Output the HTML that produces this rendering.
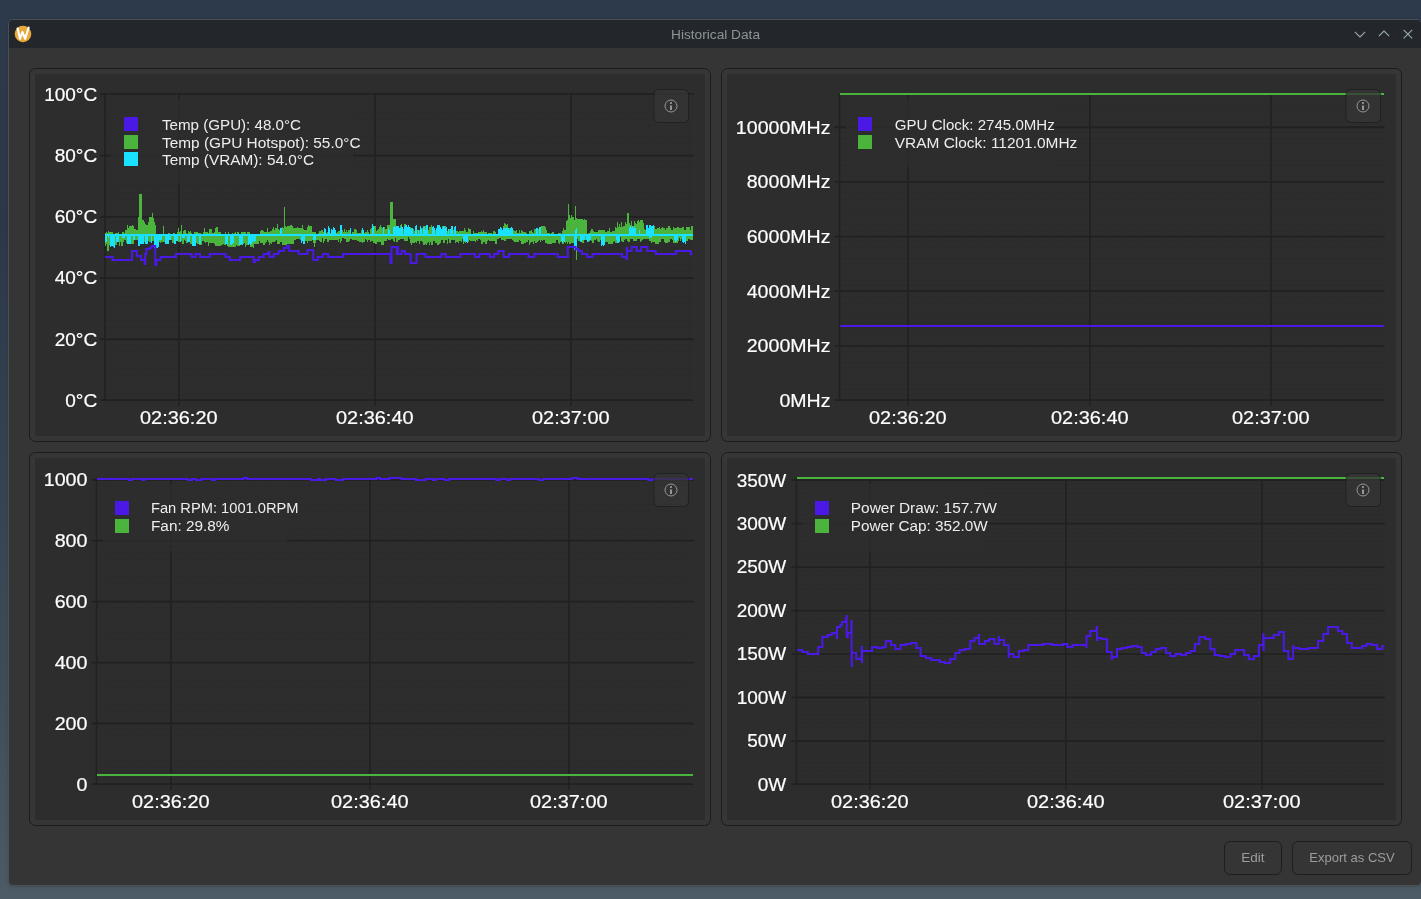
<!DOCTYPE html>
<html><head><meta charset="utf-8"><title>Historical Data</title>
<style>
html,body{margin:0;padding:0;}
body{width:1421px;height:899px;overflow:hidden;position:relative;font-family:"Liberation Sans", sans-serif;
background:linear-gradient(180deg,#2d3a4c 0%,#2c3848 25%,#344250 50%,#3e4c58 75%,#4c5b65 100%);}
.win{will-change:transform;position:absolute;left:8px;top:19px;width:1414px;height:867px;box-sizing:border-box;border:1px solid #4c4f54;border-radius:5px;background:#353535;overflow:hidden;box-shadow:0 1px 3px rgba(0,0,0,0.15);}
.tb{position:absolute;left:0;top:0;right:0;height:28px;background:#23262b;}
.title{position:absolute;left:0;width:1413px;top:7.3px;text-align:center;font-size:13.7px;color:#8d9696;}
.btn{position:absolute;top:821px;height:34px;border:1px solid #1e1e1e;border-radius:6px;background:#353535;color:#9d9d9d;font-size:13.5px;line-height:32px;text-align:center;box-sizing:border-box;}
svg{position:absolute;left:0;top:0;will-change:transform;}
svg text{font-family:"Liberation Sans", sans-serif;stroke:#ffffff;stroke-width:0.2px;}
</style></head><body>
<div class="win">
 <div class="tb">
  <div class="title">Historical Data</div>
 </div>
 <div class="btn" style="left:1215px;width:58px;">Edit</div>
 <div class="btn" style="left:1283px;width:120px;font-size:13px;">Export as CSV</div>
</div>
<svg width="1421" height="899" viewBox="0 0 1421 899">
<!-- title bar icons -->
<circle cx="23" cy="34" r="8.3" fill="#e9a93a"/>
<path d="M17.6 28.4 L20 38.8 L22.4 32 L25.2 38.8 L28.6 27.6" fill="none" stroke="#fff" stroke-width="2.1" stroke-linejoin="round" stroke-linecap="round"/>
<path d="M1354.8 31.8 L1360 37 L1365.2 31.8" fill="none" stroke="#9cadad" stroke-width="1.1"/>
<path d="M1378.8 36.2 L1384 31 L1389.2 36.2" fill="none" stroke="#9cadad" stroke-width="1.1"/>
<path d="M1403.6 29.8 L1412.2 38.4 M1412.2 29.8 L1403.6 38.4" fill="none" stroke="#9cadad" stroke-width="1.1"/>
<rect x="29.5" y="68.5" width="681" height="373" rx="6" ry="6" fill="#363636" stroke="#1c1c1c" stroke-width="1"/>
<rect x="35" y="74" width="670" height="362" fill="#2d2d2d"/>
<line x1="119.50" y1="94" x2="119.50" y2="400" stroke="#2b2b2b" stroke-width="1"/>
<line x1="139.50" y1="94" x2="139.50" y2="400" stroke="#2b2b2b" stroke-width="1"/>
<line x1="158.50" y1="94" x2="158.50" y2="400" stroke="#2b2b2b" stroke-width="1"/>
<line x1="198.50" y1="94" x2="198.50" y2="400" stroke="#2b2b2b" stroke-width="1"/>
<line x1="217.50" y1="94" x2="217.50" y2="400" stroke="#2b2b2b" stroke-width="1"/>
<line x1="237.50" y1="94" x2="237.50" y2="400" stroke="#2b2b2b" stroke-width="1"/>
<line x1="256.50" y1="94" x2="256.50" y2="400" stroke="#2b2b2b" stroke-width="1"/>
<line x1="276.50" y1="94" x2="276.50" y2="400" stroke="#2b2b2b" stroke-width="1"/>
<line x1="296.50" y1="94" x2="296.50" y2="400" stroke="#2b2b2b" stroke-width="1"/>
<line x1="315.50" y1="94" x2="315.50" y2="400" stroke="#2b2b2b" stroke-width="1"/>
<line x1="335.50" y1="94" x2="335.50" y2="400" stroke="#2b2b2b" stroke-width="1"/>
<line x1="354.50" y1="94" x2="354.50" y2="400" stroke="#2b2b2b" stroke-width="1"/>
<line x1="394.50" y1="94" x2="394.50" y2="400" stroke="#2b2b2b" stroke-width="1"/>
<line x1="413.50" y1="94" x2="413.50" y2="400" stroke="#2b2b2b" stroke-width="1"/>
<line x1="433.50" y1="94" x2="433.50" y2="400" stroke="#2b2b2b" stroke-width="1"/>
<line x1="452.50" y1="94" x2="452.50" y2="400" stroke="#2b2b2b" stroke-width="1"/>
<line x1="472.50" y1="94" x2="472.50" y2="400" stroke="#2b2b2b" stroke-width="1"/>
<line x1="492.50" y1="94" x2="492.50" y2="400" stroke="#2b2b2b" stroke-width="1"/>
<line x1="511.50" y1="94" x2="511.50" y2="400" stroke="#2b2b2b" stroke-width="1"/>
<line x1="531.50" y1="94" x2="531.50" y2="400" stroke="#2b2b2b" stroke-width="1"/>
<line x1="550.50" y1="94" x2="550.50" y2="400" stroke="#2b2b2b" stroke-width="1"/>
<line x1="590.50" y1="94" x2="590.50" y2="400" stroke="#2b2b2b" stroke-width="1"/>
<line x1="609.50" y1="94" x2="609.50" y2="400" stroke="#2b2b2b" stroke-width="1"/>
<line x1="629.50" y1="94" x2="629.50" y2="400" stroke="#2b2b2b" stroke-width="1"/>
<line x1="648.50" y1="94" x2="648.50" y2="400" stroke="#2b2b2b" stroke-width="1"/>
<line x1="668.50" y1="94" x2="668.50" y2="400" stroke="#2b2b2b" stroke-width="1"/>
<line x1="688.50" y1="94" x2="688.50" y2="400" stroke="#2b2b2b" stroke-width="1"/>
<line x1="105" y1="394.50" x2="693" y2="394.50" stroke="#2b2b2b" stroke-width="1"/>
<line x1="105" y1="388.50" x2="693" y2="388.50" stroke="#2b2b2b" stroke-width="1"/>
<line x1="105" y1="382.50" x2="693" y2="382.50" stroke="#2b2b2b" stroke-width="1"/>
<line x1="105" y1="375.50" x2="693" y2="375.50" stroke="#2b2b2b" stroke-width="1"/>
<line x1="105" y1="369.50" x2="693" y2="369.50" stroke="#2b2b2b" stroke-width="1"/>
<line x1="105" y1="363.50" x2="693" y2="363.50" stroke="#2b2b2b" stroke-width="1"/>
<line x1="105" y1="357.50" x2="693" y2="357.50" stroke="#2b2b2b" stroke-width="1"/>
<line x1="105" y1="351.50" x2="693" y2="351.50" stroke="#2b2b2b" stroke-width="1"/>
<line x1="105" y1="345.50" x2="693" y2="345.50" stroke="#2b2b2b" stroke-width="1"/>
<line x1="105" y1="333.50" x2="693" y2="333.50" stroke="#2b2b2b" stroke-width="1"/>
<line x1="105" y1="327.50" x2="693" y2="327.50" stroke="#2b2b2b" stroke-width="1"/>
<line x1="105" y1="320.50" x2="693" y2="320.50" stroke="#2b2b2b" stroke-width="1"/>
<line x1="105" y1="314.50" x2="693" y2="314.50" stroke="#2b2b2b" stroke-width="1"/>
<line x1="105" y1="308.50" x2="693" y2="308.50" stroke="#2b2b2b" stroke-width="1"/>
<line x1="105" y1="302.50" x2="693" y2="302.50" stroke="#2b2b2b" stroke-width="1"/>
<line x1="105" y1="296.50" x2="693" y2="296.50" stroke="#2b2b2b" stroke-width="1"/>
<line x1="105" y1="290.50" x2="693" y2="290.50" stroke="#2b2b2b" stroke-width="1"/>
<line x1="105" y1="284.50" x2="693" y2="284.50" stroke="#2b2b2b" stroke-width="1"/>
<line x1="105" y1="271.50" x2="693" y2="271.50" stroke="#2b2b2b" stroke-width="1"/>
<line x1="105" y1="265.50" x2="693" y2="265.50" stroke="#2b2b2b" stroke-width="1"/>
<line x1="105" y1="259.50" x2="693" y2="259.50" stroke="#2b2b2b" stroke-width="1"/>
<line x1="105" y1="253.50" x2="693" y2="253.50" stroke="#2b2b2b" stroke-width="1"/>
<line x1="105" y1="247.50" x2="693" y2="247.50" stroke="#2b2b2b" stroke-width="1"/>
<line x1="105" y1="241.50" x2="693" y2="241.50" stroke="#2b2b2b" stroke-width="1"/>
<line x1="105" y1="235.50" x2="693" y2="235.50" stroke="#2b2b2b" stroke-width="1"/>
<line x1="105" y1="229.50" x2="693" y2="229.50" stroke="#2b2b2b" stroke-width="1"/>
<line x1="105" y1="222.50" x2="693" y2="222.50" stroke="#2b2b2b" stroke-width="1"/>
<line x1="105" y1="210.50" x2="693" y2="210.50" stroke="#2b2b2b" stroke-width="1"/>
<line x1="105" y1="204.50" x2="693" y2="204.50" stroke="#2b2b2b" stroke-width="1"/>
<line x1="105" y1="198.50" x2="693" y2="198.50" stroke="#2b2b2b" stroke-width="1"/>
<line x1="105" y1="192.50" x2="693" y2="192.50" stroke="#2b2b2b" stroke-width="1"/>
<line x1="105" y1="186.50" x2="693" y2="186.50" stroke="#2b2b2b" stroke-width="1"/>
<line x1="105" y1="180.50" x2="693" y2="180.50" stroke="#2b2b2b" stroke-width="1"/>
<line x1="105" y1="174.50" x2="693" y2="174.50" stroke="#2b2b2b" stroke-width="1"/>
<line x1="105" y1="167.50" x2="693" y2="167.50" stroke="#2b2b2b" stroke-width="1"/>
<line x1="105" y1="161.50" x2="693" y2="161.50" stroke="#2b2b2b" stroke-width="1"/>
<line x1="105" y1="149.50" x2="693" y2="149.50" stroke="#2b2b2b" stroke-width="1"/>
<line x1="105" y1="143.50" x2="693" y2="143.50" stroke="#2b2b2b" stroke-width="1"/>
<line x1="105" y1="137.50" x2="693" y2="137.50" stroke="#2b2b2b" stroke-width="1"/>
<line x1="105" y1="131.50" x2="693" y2="131.50" stroke="#2b2b2b" stroke-width="1"/>
<line x1="105" y1="125.50" x2="693" y2="125.50" stroke="#2b2b2b" stroke-width="1"/>
<line x1="105" y1="118.50" x2="693" y2="118.50" stroke="#2b2b2b" stroke-width="1"/>
<line x1="105" y1="112.50" x2="693" y2="112.50" stroke="#2b2b2b" stroke-width="1"/>
<line x1="105" y1="106.50" x2="693" y2="106.50" stroke="#2b2b2b" stroke-width="1"/>
<line x1="105" y1="100.50" x2="693" y2="100.50" stroke="#2b2b2b" stroke-width="1"/>
<line x1="178.9" y1="94" x2="178.9" y2="405.5" stroke="#212121" stroke-width="1.6"/>
<line x1="374.9" y1="94" x2="374.9" y2="405.5" stroke="#212121" stroke-width="1.6"/>
<line x1="570.9" y1="94" x2="570.9" y2="405.5" stroke="#212121" stroke-width="1.6"/>
<line x1="100" y1="400.20" x2="693.7" y2="400.20" stroke="#212121" stroke-width="1.8"/>
<text x="97.2" y="406.80" text-anchor="end" font-size="19" fill="#ffffff">0°C</text>
<line x1="100" y1="339.25" x2="693.7" y2="339.25" stroke="#212121" stroke-width="1.8"/>
<text x="97.2" y="345.60" text-anchor="end" font-size="19" fill="#ffffff">20°C</text>
<line x1="100" y1="278.05" x2="693.7" y2="278.05" stroke="#212121" stroke-width="1.8"/>
<text x="97.2" y="284.40" text-anchor="end" font-size="19" fill="#ffffff">40°C</text>
<line x1="100" y1="216.85" x2="693.7" y2="216.85" stroke="#212121" stroke-width="1.8"/>
<text x="97.2" y="223.20" text-anchor="end" font-size="19" fill="#ffffff">60°C</text>
<line x1="100" y1="155.65" x2="693.7" y2="155.65" stroke="#212121" stroke-width="1.8"/>
<text x="97.2" y="162.00" text-anchor="end" font-size="19" fill="#ffffff">80°C</text>
<line x1="100" y1="93.90" x2="693.7" y2="93.90" stroke="#212121" stroke-width="1.8"/>
<text x="97.2" y="100.80" text-anchor="end" font-size="19" fill="#ffffff">100°C</text>
<line x1="105" y1="94" x2="105" y2="400" stroke="#212121" stroke-width="1.5"/>
<text x="178.8" y="423.8" text-anchor="middle" font-size="19" textLength="77.5" lengthAdjust="spacingAndGlyphs" fill="#ffffff">02:36:20</text>
<text x="374.8" y="423.8" text-anchor="middle" font-size="19" textLength="77.5" lengthAdjust="spacingAndGlyphs" fill="#ffffff">02:36:40</text>
<text x="570.8" y="423.8" text-anchor="middle" font-size="19" textLength="77.5" lengthAdjust="spacingAndGlyphs" fill="#ffffff">02:37:00</text>
<path d="M105,233H105V233H106H106V232H107H107V233H108H108V231H109H109V232H110H110V232H111H111V232H112H112V232H113H113V234H114H114V234H115H115V233H116H116V233H117H117V233H118H118V232H119H119V234H120H120V234H121H121V234H122H122V232H123H123V232H124H124V233H125H125V230H126H126V230H127H127V225H128H128V228H129H129V226H130H130V226H131H131V226H132H132V225H133H133V226H134H134V229H135H135V229H136H136V230H137H137V230H138H138V217H139H139V194H140H140V194H141H141V194H142H142V220H143H143V220H144H144V222H145H145V224H146H146V225H147H147V225H148H148V222H149H149V217H150H150V217H151H151V217H152H152V213H153H153V218H154H154V222H155H155V225H156H156V234H157H157V234H158H158V234H159H159V234H160H160V234H161H161V234H162H162V234H163H163V226H164H164V234H165H165V234H166H166V234H167H167V234H168H168V233H169H169V233H170H170V234H171H171V234H172H172V234H173H173V233H174H174V233H175H175V234H176H176V234H177H177V232H178H178V228H179H179V232H180H180V231H181H181V225H182H182V234H183H183V231H184H184V230H185H185V230H186H186V233H187H187V234H188H188V231H189H189V232H190H190V231H191H191V233H192H192V234H193H193V234H194H194V232H195H195V232H196H196V232H197H197V232H198H198V233H199H199V233H200H200V233H201H201V234H202H202V234H203H203V232H204H204V228H205H205V232H206H206V232H207H207V232H208H208V233H209H209V229H210H210V229H211H211V229H212H212V233H213H213V233H214H214V232H215H215V228H216H216V227H217H217V227H218H218V232H219H219V232H220H220V232H221H221V234H222H222V234H223H223V234H224H224V234H225H225V232H226H226V234H227H227V234H228H228V232H229H229V234H230H230V234H231H231V234H232H232V233H233H233V234H234H234V233H235H235V232H236H236V234H237H237V232H238H238V232H239H239V234H240H240V234H241H241V232H242H242V232H243H243V232H244H244V232H245H245V232H246H246V234H247H247V232H248H248V232H249H249V232H250H250V234H251H251V234H252H252V234H253H253V234H254H254V234H255H255V234H256H256V234H257H257V234H258H258V234H259H259V234H260H260V231H261H261V230H262H262V230H263H263V231H264H264V232H265H265V232H266H266V232H267H267V228H268H268V232H269H269V232H270H270V231H271H271V231H272H272V229H273H273V227H274H274V230H275H275V228H276H276V228H277H277V224H278H278V229H279H279V230H280H280V229H281H281V229H282H282V227H283H283V228H284H284V207H285H285V226H286H286V227H287H287V226H288H288V226H289H289V226H290H290V225H291H291V225H292H292V226H293H293V228H294H294V228H295H295V228H296H296V228H297H297V227H298H298V228H299H299V228H300H300V228H301H301V228H302H302V225H303H303V229H304H304V230H305H305V230H306H306V230H307H307V227H308H308V225H309H309V226H310H310V226H311H311V226H312H312V232H313H313V232H314H314V232H315H315V232H316H316V234H317H317V234H318H318V233H319H319V231H320H320V231H321H321V230H322H322V230H323H323V232H324H324V233H325H325V233H326H326V233H327H327V232H328H328V230H329H329V233H330H330V233H331H331V232H332H332V232H333H333V233H334H334V233H335H335V233H336H336V233H337H337V232H338H338V231H339H339V231H340H340V231H341H341V230H342H342V230H343H343V232H344H344V229H345H345V232H346H346V230H347H347V232H348H348V230H349H349V230H350H350V230H351H351V234H352H352V232H353H353V232H354H354V229H355H355V229H356H356V230H357H357V233H358H358V233H359H359V233H360H360V233H361H361V230H362H362V231H363H363V233H364H364V233H365H365V232H366H366V232H367H367V230H368H368V232H369H369V234H370H370V229H371H371V228H372H372V228H373H373V228H374H374V226H375H375V226H376H376V231H377H377V230H378H378V229H379H379V227H380H380V225H381H381V227H382H382V228H383H383V228H384H384V227H385H385V229H386H386V229H387H387V225H388H388V225H389H389V225H390H390V202H391H391V202H392H392V202H393H393V219H394H394V219H395H395V219H396H396V231H397H397V230H398H398V232H399H399V229H400H400V225H401H401V224H402H402V229H403H403V229H404H404V224H405H405V224H406H406V228H407H407V227H408H408V225H409H409V227H410H410V227H411H411V229H412H412V228H413H413V229H414H414V231H415H415V231H416H416V230H417H417V230H418H418V230H419H419V230H420H420V228H421H421V228H422H422V228H423H423V226H424H424V226H425H425V226H426H426V229H427H427V230H428H428V230H429H429V227H430H430V227H431H431V225H432H432V228H433H433V228H434H434V230H435H435V230H436H436V230H437H437V229H438H438V225H439H439V230H440H440V230H441H441V230H442H442V226H443H443V226H444H444V226H445H445V226H446H446V230H447H447V231H448H448V230H449H449V229H450H450V229H451H451V229H452H452V229H453H453V230H454H454V232H455H455V231H456H456V231H457H457V231H458H458V232H459H459V231H460H460V231H461H461V231H462H462V231H463H463V231H464H464V228H465H465V230H466H466V232H467H467V232H468H468V228H469H469V229H470H470V229H471H471V234H472H472V234H473H473V231H474H474V233H475H475V233H476H476V233H477H477V233H478H478V232H479H479V232H480H480V232H481H481V231H482H482V232H483H483V230H484H484V232H485H485V232H486H486V232H487H487V234H488H488V233H489H489V233H490H490V233H491H491V233H492H492V234H493H493V231H494H494V231H495H495V232H496H496V234H497H497V234H498H498V231H499H499V234H500H500V231H501H501V230H502H502V231H503H503V226H504H504V223H505H505V224H506H506V225H507H507V224H508H508V229H509H509V228H510H510V228H511H511V234H512H512V233H513H513V230H514H514V231H515H515V231H516H516V230H517H517V233H518H518V233H519H519V230H520H520V233H521H521V230H522H522V231H523H523V232H524H524V232H525H525V232H526H526V233H527H527V234H528H528V234H529H529V231H530H530V231H531H531V230H532H532V232H533H533V233H534H534V229H535H535V229H536H536V229H537H537V229H538H538V229H539H539V229H540H540V228H541H541V226H542H542V226H543H543V226H544H544V226H545H545V227H546H546V230H547H547V233H548H548V233H549H549V233H550H550V234H551H551V233H552H552V232H553H553V232H554H554V234H555H555V234H556H556V234H557H557V234H558H558V233H559H559V233H560H560V233H561H561V234H562H562V231H563H563V228H564H564V230H565H565V230H566H566V221H567H567V220H568H568V204H569H569V215H570H570V218H571H571V215H572H572V217H573H573V217H574H574V220H575H575V206H576H576V218H577H577V219H578H578V219H579H579V219H580H580V219H581H581V219H582H582V219H583H583V220H584H584V219H585H585V220H586H586V220H587H587V234H588H588V233H589H589V233H590H590V231H591H591V229H592H592V229H593H593V231H594H594V232H595H595V232H596H596V232H597H597V232H598H598V230H599H599V230H600H600V230H601H601V230H602H602V230H603H603V230H604H604V230H605H605V232H606H606V232H607H607V231H608H608V231H609H609V228H610H610V232H611H611V232H612H612V231H613H613V231H614H614V231H615H615V227H616H616V228H617H617V222H618H618V227H619H619V224H620H620V227H621H621V222H622H622V227H623H623V226H624H624V226H625H625V222H626H626V224H627H627V213H628H628V213H629H629V223H630H630V225H631H631V221H632H632V226H633H633V226H634H634V221H635H635V223H636H636V224H637H637V221H638H638V220H639H639V222H640H640V220H641H641V220H642H642V220H643H643V223H644H644V229H645H645V230H646H646V229H647H647V227H648H648V231H649H649V231H650H650V229H651H651V227H652H652V231H653H653V227H654H654V226H655H655V229H656H656V229H657H657V228H658H658V228H659H659V227H660H660V229H661H661V228H662H662V227H663H663V228H664H664V228H665H665V230H666H666V228H667H667V228H668H668V226H669H669V226H670H670V228H671H671V230H672H672V230H673H673V227H674H674V228H675H675V228H676H676V228H677H677V227H678H678V227H679H679V228H680H680V228H681H681V228H682H682V227H683H683V227H684H684V230H685H685V230H686H686V227H687H687V227H688H688V227H689H689V227H690H690V230H691H691V226H692H692V226H693V240H692V240H691V240H690V239H689V239H688V241H687V241H686V241H685V241H684V238H683V239H682V239H681V241H680V238H679V241H678V243H677V243H676V243H675V243H674V243H673V240H672V239H671V239H670V242H669V242H668V243H667V243H666V243H665V242H664V239H663V239H662V239H661V242H660V242H659V244H658V244H657V244H656V244H655V242H654V242H653V242H652V243H651V241H650V241H649V239H648V239H647V239H646V239H645V239H644V239H643V240H642V241H641V242H640V239H639V239H638V239H637V241H636V241H635V241H634V241H633V239H632V239H631V239H630V242H629V242H628V241H627V239H626V239H625V240H624V242H623V242H622V241H621V237H620V237H619V243H618V243H617V243H616V243H615V241H614V242H613V244H612V244H611V244H610V244H609V244H608V242H607V242H606V242H605V242H604V242H603V241H602V240H601V240H600V242H599V242H598V241H597V239H596V240H595V240H594V243H593V243H592V241H591V238H590V239H589V242H588V239H587V240H586V240H585V240H584V243H583V243H582V242H581V242H580V241H579V241H578V239H577V260H576V240H575V243H574V243H573V243H572V243H571V244H570V244H569V242H568V244H567V242H566V243H565V241H564V244H563V244H562V242H561V242H560V244H559V243H558V240H557V240H556V243H555V243H554V243H553V243H552V244H551V244H550V244H549V244H548V244H547V243H546V243H545V240H544V240H543V241H542V240H541V242H540V240H539V241H538V242H537V243H536V243H535V241H534V244H533V242H532V242H531V243H530V245H529V240H528V242H527V242H526V243H525V243H524V244H523V244H522V244H521V241H520V240H519V242H518V242H517V242H516V242H515V242H514V241H513V240H512V239H511V239H510V239H509V239H508V239H507V239H506V241H505V241H504V240H503V240H502V240H501V238H500V238H499V239H498V239H497V244H496V244H495V241H494V241H493V241H492V241H491V241H490V241H489V240H488V241H487V244H486V244H485V242H484V242H483V244H482V244H481V240H480V239H479V239H478V241H477V240H476V242H475V241H474V241H473V241H472V241H471V241H470V240H469V242H468V240H467V242H466V243H465V242H464V244H463V239H462V242H461V241H460V241H459V243H458V242H457V242H456V243H455V240H454V240H453V240H452V240H451V243H450V243H449V239H448V244H447V240H446V240H445V243H444V243H443V240H442V240H441V243H440V244H439V245H438V245H437V243H436V243H435V241H434V241H433V245H432V245H431V242H430V245H429V242H428V243H427V245H426V244H425V245H424V245H423V242H422V241H421V241H420V244H419V241H418V241H417V243H416V242H415V243H414V243H413V243H412V245H411V243H410V239H409V237H408V241H407V241H406V241H405V241H404V239H403V239H402V239H401V239H400V240H399V240H398V242H397V242H396V238H395V242H394V241H393V239H392V239H391V240H390V240H389V240H388V239H387V241H386V241H385V241H384V245H383V245H382V245H381V242H380V242H379V242H378V242H377V244H376V244H375V243H374V243H373V241H372V241H371V242H370V240H369V240H368V242H367V240H366V239H365V242H364V242H363V243H362V242H361V242H360V242H359V241H358V241H357V240H356V240H355V240H354V240H353V240H352V239H351V239H350V241H349V242H348V242H347V242H346V239H345V239H344V238H343V238H342V241H341V243H340V239H339V242H338V240H337V240H336V240H335V240H334V240H333V240H332V240H331V240H330V240H329V242H328V242H327V239H326V239H325V241H324V243H323V238H322V242H321V242H320V241H319V240H318V240H317V240H316V243H315V247H314V243H313V240H312V241H311V241H310V241H309V241H308V243H307V241H306V241H305V242H304V241H303V240H302V240H301V240H300V239H299V239H298V239H297V239H296V240H295V240H294V244H293V244H292V244H291V244H290V244H289V244H288V244H287V245H286V245H285V245H284V245H283V245H282V242H281V242H280V244H279V244H278V244H277V240H276V241H275V242H274V242H273V242H272V244H271V243H270V245H269V242H268V240H267V242H266V243H265V245H264V245H263V243H262V243H261V243H260V241H259V244H258V244H257V244H256V244H255V244H254V248H253V247H252V247H251V247H250V244H249V245H248V245H247V245H246V247H245V243H244V244H243V244H242V245H241V243H240V246H239V246H238V246H237V245H236V247H235V247H234V247H233V247H232V247H231V247H230V247H229V247H228V246H227V244H226V245H225V245H224V244H223V245H222V245H221V246H220V246H219V246H218V246H217V246H216V246H215V244H214V243H213V243H212V243H211V243H210V243H209V246H208V242H207V242H206V243H205V242H204V241H203V241H202V245H201V245H200V245H199V244H198V244H197V243H196V243H195V244H194V244H193V244H192V244H191V244H190V241H189V241H188V243H187V243H186V241H185V240H184V244H183V244H182V241H181V242H180V242H179V242H178V241H177V240H176V240H175V243H174V243H173V243H172V240H171V240H170V239H169V240H168V240H167V243H166V241H165V242H164V242H163V242H162V242H161V243H160V242H159V242H158V242H157V242H156V243H155V244H154V241H153V241H152V241H151V242H150V242H149V241H148V240H147V241H146V241H145V242H144V244H143V240H142V241H141V241H140V241H139V241H138V240H137V240H136V240H135V240H134V244H133V244H132V244H131V244H130V242H129V242H128V243H127V243H126V240H125V240H124V242H123V246H122V246H121V242H120V246H119V242H118V242H117V245H116V245H115V245H114V241H113V241H112V244H111V245H110V245H109V251H108V251H107V244H106V246H105Z" fill="rgb(75,180,60)"/>
<path d="M105,234H105V234H106H106V234H107H107V234H108H108V234H109H109V234H110H110V234H111H111V234H112H112V234H113H113V234H114H114V234H115H115V234H116H116V234H117H117V234H118H118V234H119H119V234H120H120V234H121H121V234H122H122V234H123H123V234H124H124V234H125H125V234H126H126V234H127H127V234H128H128V234H129H129V234H130H130V234H131H131V234H132H132V234H133H133V234H134H134V234H135H135V234H136H136V234H137H137V234H138H138V234H139H139V234H140H140V234H141H141V234H142H142V234H143H143V234H144H144V234H145H145V234H146H146V234H147H147V234H148H148V234H149H149V234H150H150V234H151H151V234H152H152V234H153H153V234H154H154V234H155H155V234H156H156V234H157H157V234H158H158V234H159H159V234H160H160V234H161H161V234H162H162V234H163H163V234H164H164V234H165H165V234H166H166V234H167H167V234H168H168V234H169H169V234H170H170V234H171H171V234H172H172V234H173H173V234H174H174V234H175H175V234H176H176V234H177H177V234H178H178V234H179H179V234H180H180V234H181H181V234H182H182V234H183H183V234H184H184V234H185H185V234H186H186V234H187H187V234H188H188V234H189H189V234H190H190V234H191H191V234H192H192V234H193H193V234H194H194V234H195H195V234H196H196V234H197H197V234H198H198V234H199H199V234H200H200V234H201H201V234H202H202V234H203H203V234H204H204V234H205H205V234H206H206V234H207H207V234H208H208V234H209H209V234H210H210V234H211H211V234H212H212V234H213H213V234H214H214V234H215H215V234H216H216V234H217H217V234H218H218V234H219H219V234H220H220V234H221H221V234H222H222V234H223H223V234H224H224V234H225H225V234H226H226V234H227H227V234H228H228V234H229H229V234H230H230V234H231H231V234H232H232V234H233H233V234H234H234V234H235H235V234H236H236V234H237H237V234H238H238V234H239H239V234H240H240V234H241H241V234H242H242V234H243H243V234H244H244V234H245H245V234H246H246V234H247H247V234H248H248V234H249H249V234H250H250V234H251H251V234H252H252V234H253H253V234H254H254V234H255H255V234H256H256V234H257H257V234H258H258V234H259H259V234H260H260V234H261H261V234H262H262V234H263H263V234H264H264V234H265H265V234H266H266V234H267H267V234H268H268V234H269H269V234H270H270V234H271H271V234H272H272V234H273H273V234H274H274V234H275H275V234H276H276V234H277H277V234H278H278V234H279H279V234H280H280V228H281H281V228H282H282V234H283H283V234H284H284V234H285H285V234H286H286V234H287H287V234H288H288V234H289H289V234H290H290V234H291H291V234H292H292V234H293H293V234H294H294V234H295H295V234H296H296V234H297H297V234H298H298V234H299H299V234H300H300V234H301H301V234H302H302V234H303H303V234H304H304V234H305H305V234H306H306V234H307H307V234H308H308V234H309H309V234H310H310V234H311H311V234H312H312V234H313H313V234H314H314V234H315H315V234H316H316V234H317H317V234H318H318V234H319H319V234H320H320V234H321H321V234H322H322V234H323H323V234H324H324V228H325H325V229H326H326V234H327H327V234H328H328V226H329H329V228H330H330V234H331H331V229H332H332V230H333H333V227H334H334V228H335H335V230H336H336V234H337H337V234H338H338V234H339H339V234H340H340V225H341H341V225H342H342V234H343H343V234H344H344V234H345H345V234H346H346V234H347H347V234H348H348V234H349H349V234H350H350V228H351H351V234H352H352V234H353H353V234H354H354V234H355H355V234H356H356V234H357H357V234H358H358V234H359H359V234H360H360V234H361H361V234H362H362V228H363H363V230H364H364V234H365H365V234H366H366V234H367H367V234H368H368V234H369H369V234H370H370V234H371H371V234H372H372V224H373H373V226H374H374V234H375H375V234H376H376V234H377H377V234H378H378V234H379H379V234H380H380V234H381H381V234H382H382V234H383H383V227H384H384V234H385H385V234H386H386V234H387H387V234H388H388V228H389H389V230H390H390V234H391H391V234H392H392V234H393H393V227H394H394V226H395H395V227H396H396V226H397H397V226H398H398V226H399H399V228H400H400V228H401H401V226H402H402V227H403H403V234H404H404V227H405H405V225H406H406V225H407H407V227H408H408V225H409H409V227H410H410V229H411H411V228H412H412V228H413H413V234H414H414V234H415H415V226H416H416V225H417H417V234H418H418V230H419H419V234H420H420V226H421H421V229H422H422V234H423H423V227H424H424V227H425H425V230H426H426V225H427H427V225H428H428V234H429H429V234H430H430V234H431H431V234H432H432V227H433H433V226H434H434V228H435H435V234H436H436V228H437H437V225H438H438V225H439H439V225H440H440V227H441H441V229H442H442V228H443H443V226H444H444V226H445H445V228H446H446V227H447H447V234H448H448V229H449H449V234H450H450V229H451H451V226H452H452V226H453H453V234H454H454V227H455H455V226H456H456V234H457H457V234H458H458V234H459H459V234H460H460V234H461H461V234H462H462V234H463H463V234H464H464V234H465H465V234H466H466V234H467H467V234H468H468V234H469H469V234H470H470V234H471H471V234H472H472V234H473H473V234H474H474V234H475H475V234H476H476V234H477H477V234H478H478V234H479H479V234H480H480V234H481H481V234H482H482V234H483H483V234H484H484V234H485H485V234H486H486V234H487H487V234H488H488V234H489H489V234H490H490V234H491H491V234H492H492V234H493H493V234H494H494V234H495H495V234H496H496V234H497H497V234H498H498V229H499H499V229H500H500V227H501H501V228H502H502V230H503H503V228H504H504V228H505H505V228H506H506V228H507H507V228H508H508V228H509H509V230H510H510V228H511H511V227H512H512V228H513H513V234H514H514V234H515H515V234H516H516V234H517H517V234H518H518V234H519H519V234H520H520V234H521H521V234H522H522V234H523H523V234H524H524V234H525H525V234H526H526V234H527H527V234H528H528V234H529H529V234H530H530V234H531H531V234H532H532V234H533H533V234H534H534V234H535H535V234H536H536V228H537H537V228H538H538V234H539H539V227H540H540V227H541H541V234H542H542V234H543H543V234H544H544V234H545H545V234H546H546V234H547H547V234H548H548V234H549H549V234H550H550V234H551H551V234H552H552V234H553H553V234H554H554V234H555H555V234H556H556V234H557H557V234H558H558V234H559H559V234H560H560V234H561H561V234H562H562V234H563H563V234H564H564V234H565H565V234H566H566V234H567H567V234H568H568V234H569H569V234H570H570V234H571H571V234H572H572V234H573H573V234H574H574V234H575H575V230H576H576V228H577H577V234H578H578V234H579H579V234H580H580V234H581H581V234H582H582V234H583H583V234H584H584V234H585H585V234H586H586V234H587H587V234H588H588V234H589H589V234H590H590V234H591H591V234H592H592V234H593H593V234H594H594V234H595H595V234H596H596V234H597H597V234H598H598V234H599H599V234H600H600V234H601H601V234H602H602V234H603H603V234H604H604V234H605H605V234H606H606V234H607H607V234H608H608V234H609H609V234H610H610V234H611H611V234H612H612V234H613H613V234H614H614V234H615H615V234H616H616V234H617H617V234H618H618V234H619H619V234H620H620V234H621H621V234H622H622V234H623H623V234H624H624V234H625H625V234H626H626V234H627H627V234H628H628V234H629H629V227H630H630V226H631H631V228H632H632V226H633H633V228H634H634V227H635H635V228H636H636V234H637H637V234H638H638V234H639H639V230H640H640V234H641H641V234H642H642V234H643H643V234H644H644V234H645H645V234H646H646V225H647H647V225H648H648V228H649H649V225H650H650V225H651H651V226H652H652V226H653H653V225H654H654V234H655H655V234H656H656V234H657H657V234H658H658V234H659H659V234H660H660V234H661H661V234H662H662V234H663H663V234H664H664V234H665H665V234H666H666V234H667H667V234H668H668V234H669H669V234H670H670V234H671H671V234H672H672V234H673H673V234H674H674V234H675H675V234H676H676V234H677H677V234H678H678V234H679H679V234H680H680V234H681H681V234H682H682V234H683H683V234H684H684V234H685H685V234H686H686V234H687H687V234H688H688V234H689H689V234H690H690V234H691H691V234H692H692V234H693V236H692V236H691V236H690V236H689V236H688V236H687V236H686V244H685V242H684V243H683V242H682V236H681V236H680V236H679V236H678V240H677V241H676V242H675V240H674V236H673V236H672V236H671V236H670V236H669V236H668V236H667V236H666V236H665V236H664V236H663V236H662V236H661V236H660V236H659V236H658V236H657V236H656V236H655V236H654V236H653V236H652V238H651V237H650V238H649V236H648V236H647V236H646V236H645V236H644V236H643V236H642V236H641V236H640V236H639V236H638V236H637V236H636V236H635V236H634V236H633V236H632V236H631V236H630V236H629V236H628V236H627V236H626V236H625V236H624V236H623V236H622V236H621V236H620V242H619V243H618V243H617V240H616V236H615V236H614V236H613V236H612V236H611V236H610V236H609V236H608V236H607V236H606V236H605V245H604V246H603V245H602V246H601V236H600V236H599V236H598V236H597V236H596V236H595V236H594V236H593V236H592V236H591V240H590V241H589V241H588V242H587V240H586V236H585V240H584V240H583V240H582V242H581V241H580V236H579V236H578V236H577V248H576V250H575V250H574V236H573V236H572V236H571V236H570V236H569V236H568V236H567V236H566V236H565V242H564V241H563V243H562V241H561V236H560V236H559V236H558V236H557V236H556V236H555V236H554V236H553V236H552V236H551V236H550V236H549V236H548V236H547V236H546V236H545V236H544V236H543V236H542V236H541V236H540V236H539V236H538V236H537V236H536V236H535V236H534V236H533V236H532V236H531V236H530V236H529V236H528V236H527V236H526V236H525V236H524V236H523V236H522V236H521V236H520V236H519V236H518V236H517V236H516V236H515V236H514V236H513V236H512V236H511V236H510V236H509V236H508V236H507V236H506V236H505V236H504V236H503V236H502V236H501V236H500V236H499V236H498V236H497V236H496V236H495V236H494V236H493V236H492V236H491V236H490V236H489V236H488V236H487V236H486V236H485V236H484V236H483V236H482V236H481V236H480V236H479V236H478V236H477V236H476V236H475V236H474V236H473V236H472V236H471V236H470V236H469V236H468V243H467V242H466V241H465V241H464V241H463V236H462V236H461V236H460V236H459V236H458V236H457V236H456V236H455V236H454V236H453V236H452V236H451V236H450V236H449V236H448V236H447V236H446V236H445V236H444V236H443V236H442V236H441V236H440V236H439V236H438V236H437V236H436V236H435V236H434V236H433V236H432V236H431V236H430V236H429V236H428V236H427V236H426V236H425V236H424V236H423V236H422V236H421V236H420V236H419V236H418V236H417V236H416V236H415V236H414V236H413V236H412V236H411V236H410V236H409V236H408V236H407V236H406V236H405V236H404V236H403V236H402V236H401V236H400V236H399V236H398V236H397V236H396V236H395V236H394V236H393V236H392V236H391V236H390V236H389V236H388V236H387V236H386V236H385V236H384V236H383V236H382V236H381V236H380V236H379V236H378V236H377V236H376V236H375V236H374V236H373V236H372V236H371V236H370V236H369V236H368V236H367V236H366V236H365V236H364V236H363V236H362V236H361V236H360V236H359V236H358V236H357V236H356V236H355V236H354V236H353V236H352V236H351V236H350V236H349V236H348V236H347V236H346V236H345V236H344V236H343V236H342V236H341V236H340V236H339V236H338V236H337V236H336V236H335V236H334V236H333V236H332V236H331V236H330V236H329V236H328V236H327V236H326V236H325V236H324V236H323V236H322V236H321V236H320V236H319V236H318V236H317V236H316V240H315V240H314V240H313V236H312V236H311V236H310V236H309V236H308V236H307V236H306V236H305V244H304V244H303V241H302V243H301V236H300V236H299V236H298V236H297V236H296V236H295V236H294V236H293V236H292V236H291V236H290V236H289V236H288V236H287V236H286V236H285V236H284V236H283V236H282V236H281V236H280V236H279V236H278V236H277V236H276V236H275V236H274V236H273V236H272V236H271V236H270V236H269V236H268V236H267V236H266V236H265V236H264V236H263V236H262V236H261V236H260V236H259V236H258V236H257V236H256V241H255V242H254V241H253V243H252V244H251V245H250V244H249V245H248V236H247V236H246V236H245V236H244V236H243V245H242V244H241V245H240V245H239V236H238V236H237V236H236V236H235V236H234V243H233V244H232V245H231V245H230V236H229V236H228V245H227V244H226V244H225V236H224V236H223V236H222V236H221V236H220V236H219V236H218V236H217V236H216V236H215V236H214V236H213V236H212V236H211V236H210V236H209V236H208V236H207V236H206V236H205V236H204V236H203V236H202V236H201V244H200V244H199V236H198V236H197V236H196V246H195V246H194V246H193V246H192V236H191V236H190V242H189V242H188V242H187V236H186V236H185V238H184V238H183V238H182V236H181V242H180V236H179V236H178V241H177V241H176V244H175V244H174V236H173V236H172V236H171V240H170V240H169V244H168V244H167V244H166V244H165V236H164V236H163V236H162V240H161V240H160V240H159V247H158V248H157V248H156V248H155V248H154V236H153V236H152V243H151V236H150V236H149V236H148V244H147V244H146V244H145V236H144V244H143V244H142V244H141V244H140V246H139V246H138V236H137V236H136V236H135V240H134V240H133V236H132V236H131V244H130V244H129V244H128V244H127V236H126V236H125V238H124V238H123V238H122V236H121V236H120V236H119V242H118V242H117V242H116V236H115V248H114V247H113V246H112V246H111V247H110V236H109V238H108V236H107V242H106V242H105Z" fill="rgb(25,225,255)"/>
<polyline points="105.1,257.0 112.5,257.0 112.5,260.0 132.0,260.0 132.0,251.0 136.8,251.0 136.8,256.0 141.0,256.0 141.0,260.0 144.7,260.0 144.7,264.0 145.2,264.0 145.2,254.0 146.3,254.0 146.3,249.0 149.4,249.0 149.4,248.0 151.6,248.0 151.6,246.0 155.3,246.0 155.3,265.0 156.3,265.0 156.3,260.0 160.5,260.0 160.5,257.0 175.8,257.0 175.8,254.0 191.7,254.0 191.7,257.0 195.4,257.0 195.4,254.0 200.1,254.0 200.1,257.0 209.6,257.0 209.6,254.0 225.5,254.0 225.5,257.0 229.7,257.0 229.7,260.0 240.2,260.0 240.2,257.0 250.0,257.0 250.0,257.0 253.7,257.0 253.7,262.0 255.3,262.0 255.3,260.0 259.0,260.0 259.0,257.0 263.7,257.0 263.7,254.0 268.5,254.0 268.5,252.0 269.5,252.0 269.5,257.0 273.8,257.0 273.8,254.0 278.5,254.0 278.5,251.0 283.8,251.0 283.8,248.0 286.9,248.0 286.9,246.0 289.1,246.0 289.1,251.0 298.6,251.0 298.6,254.0 307.5,254.0 307.5,250.0 313.3,250.0 313.3,260.0 317.6,260.0 317.6,257.0 322.8,257.0 322.8,254.0 328.1,254.0 328.1,257.0 342.9,257.0 342.9,254.0 390.4,254.0 390.4,263.0 391.5,263.0 391.5,247.0 396.7,247.0 396.7,254.0 397.0,254.0 397.0,254.0 397.6,254.0 397.6,247.0 398.1,247.0 398.1,254.0 401.8,254.0 401.8,251.0 404.9,251.0 404.9,254.0 410.7,254.0 410.7,263.0 416.5,263.0 416.5,254.0 425.5,254.0 425.5,257.0 441.3,257.0 441.3,254.0 445.6,254.0 445.6,257.0 460.3,257.0 460.3,254.0 475.1,254.0 475.1,257.0 479.3,257.0 479.3,254.0 489.9,254.0 489.9,257.0 494.1,257.0 494.1,254.0 498.3,254.0 498.3,251.0 503.6,251.0 503.6,257.0 508.9,257.0 508.9,254.0 511.0,254.0 511.0,254.0 528.4,254.0 528.4,257.0 534.2,257.0 534.2,254.0 545.0,254.0 545.0,254.0 557.7,254.0 557.7,257.0 567.7,257.0 567.7,247.0 575.6,247.0 575.6,249.0 578.3,249.0 578.3,251.0 581.9,251.0 581.9,254.0 587.2,254.0 587.2,257.0 592.5,257.0 592.5,254.0 622.1,254.0 622.1,257.0 626.3,257.0 626.3,259.0 626.8,259.0 626.8,248.0 627.3,248.0 627.3,251.0 631.6,251.0 631.6,247.0 636.8,247.0 636.8,251.0 641.1,251.0 641.1,247.0 647.4,247.0 647.4,251.0 655.8,251.0 655.8,254.0 675.9,254.0 675.9,251.0 690.7,251.0 690.7,254.0 692.3,254.0" fill="none" stroke="rgb(75,25,230)" stroke-width="2" stroke-linejoin="miter" stroke-linecap="butt"/>
<rect x="111" y="99" width="242.0" height="85.6" fill="#2d2d2d" fill-opacity="0.8"/>
<rect x="124" y="117" width="14" height="14" fill="rgb(75,25,230)"/>
<text x="162" y="129.8" font-size="15.2" textLength="139" lengthAdjust="spacingAndGlyphs" fill="#ededed" style="stroke:none">Temp (GPU): 48.0°C</text>
<rect x="124" y="135" width="14" height="14" fill="rgb(75,180,60)"/>
<text x="162" y="147.8" font-size="15.2" textLength="198.5" lengthAdjust="spacingAndGlyphs" fill="#ededed" style="stroke:none">Temp (GPU Hotspot): 55.0°C</text>
<rect x="124" y="152" width="14" height="14" fill="rgb(25,225,255)"/>
<text x="162" y="164.8" font-size="15.2" textLength="152" lengthAdjust="spacingAndGlyphs" fill="#ededed" style="stroke:none">Temp (VRAM): 54.0°C</text>
<rect x="654" y="89.5" width="34.5" height="33" rx="5" fill="rgba(52,52,52,0.78)" stroke="rgba(22,22,22,0.55)"/>
<circle cx="671" cy="106" r="6" fill="none" stroke="#969696" stroke-width="1"/>
<rect x="670" y="105.5" width="2" height="4.5" fill="#969696"/>
<rect x="670" y="102.2" width="2" height="1.7" fill="#969696"/>
<rect x="721.5" y="68.5" width="680" height="373" rx="6" ry="6" fill="#363636" stroke="#1c1c1c" stroke-width="1"/>
<rect x="727" y="74" width="669" height="362" fill="#2d2d2d"/>
<line x1="853.50" y1="94" x2="853.50" y2="400" stroke="#2b2b2b" stroke-width="1"/>
<line x1="871.50" y1="94" x2="871.50" y2="400" stroke="#2b2b2b" stroke-width="1"/>
<line x1="889.50" y1="94" x2="889.50" y2="400" stroke="#2b2b2b" stroke-width="1"/>
<line x1="925.50" y1="94" x2="925.50" y2="400" stroke="#2b2b2b" stroke-width="1"/>
<line x1="943.50" y1="94" x2="943.50" y2="400" stroke="#2b2b2b" stroke-width="1"/>
<line x1="961.50" y1="94" x2="961.50" y2="400" stroke="#2b2b2b" stroke-width="1"/>
<line x1="980.50" y1="94" x2="980.50" y2="400" stroke="#2b2b2b" stroke-width="1"/>
<line x1="998.50" y1="94" x2="998.50" y2="400" stroke="#2b2b2b" stroke-width="1"/>
<line x1="1016.50" y1="94" x2="1016.50" y2="400" stroke="#2b2b2b" stroke-width="1"/>
<line x1="1034.50" y1="94" x2="1034.50" y2="400" stroke="#2b2b2b" stroke-width="1"/>
<line x1="1052.50" y1="94" x2="1052.50" y2="400" stroke="#2b2b2b" stroke-width="1"/>
<line x1="1070.50" y1="94" x2="1070.50" y2="400" stroke="#2b2b2b" stroke-width="1"/>
<line x1="1107.50" y1="94" x2="1107.50" y2="400" stroke="#2b2b2b" stroke-width="1"/>
<line x1="1125.50" y1="94" x2="1125.50" y2="400" stroke="#2b2b2b" stroke-width="1"/>
<line x1="1143.50" y1="94" x2="1143.50" y2="400" stroke="#2b2b2b" stroke-width="1"/>
<line x1="1161.50" y1="94" x2="1161.50" y2="400" stroke="#2b2b2b" stroke-width="1"/>
<line x1="1179.50" y1="94" x2="1179.50" y2="400" stroke="#2b2b2b" stroke-width="1"/>
<line x1="1197.50" y1="94" x2="1197.50" y2="400" stroke="#2b2b2b" stroke-width="1"/>
<line x1="1216.50" y1="94" x2="1216.50" y2="400" stroke="#2b2b2b" stroke-width="1"/>
<line x1="1234.50" y1="94" x2="1234.50" y2="400" stroke="#2b2b2b" stroke-width="1"/>
<line x1="1252.50" y1="94" x2="1252.50" y2="400" stroke="#2b2b2b" stroke-width="1"/>
<line x1="1288.50" y1="94" x2="1288.50" y2="400" stroke="#2b2b2b" stroke-width="1"/>
<line x1="1306.50" y1="94" x2="1306.50" y2="400" stroke="#2b2b2b" stroke-width="1"/>
<line x1="1324.50" y1="94" x2="1324.50" y2="400" stroke="#2b2b2b" stroke-width="1"/>
<line x1="1343.50" y1="94" x2="1343.50" y2="400" stroke="#2b2b2b" stroke-width="1"/>
<line x1="1361.50" y1="94" x2="1361.50" y2="400" stroke="#2b2b2b" stroke-width="1"/>
<line x1="1379.50" y1="94" x2="1379.50" y2="400" stroke="#2b2b2b" stroke-width="1"/>
<line x1="839.5" y1="394.50" x2="1384" y2="394.50" stroke="#2b2b2b" stroke-width="1"/>
<line x1="839.5" y1="389.50" x2="1384" y2="389.50" stroke="#2b2b2b" stroke-width="1"/>
<line x1="839.5" y1="384.50" x2="1384" y2="384.50" stroke="#2b2b2b" stroke-width="1"/>
<line x1="839.5" y1="378.50" x2="1384" y2="378.50" stroke="#2b2b2b" stroke-width="1"/>
<line x1="839.5" y1="373.50" x2="1384" y2="373.50" stroke="#2b2b2b" stroke-width="1"/>
<line x1="839.5" y1="367.50" x2="1384" y2="367.50" stroke="#2b2b2b" stroke-width="1"/>
<line x1="839.5" y1="362.50" x2="1384" y2="362.50" stroke="#2b2b2b" stroke-width="1"/>
<line x1="839.5" y1="356.50" x2="1384" y2="356.50" stroke="#2b2b2b" stroke-width="1"/>
<line x1="839.5" y1="351.50" x2="1384" y2="351.50" stroke="#2b2b2b" stroke-width="1"/>
<line x1="839.5" y1="340.50" x2="1384" y2="340.50" stroke="#2b2b2b" stroke-width="1"/>
<line x1="839.5" y1="334.50" x2="1384" y2="334.50" stroke="#2b2b2b" stroke-width="1"/>
<line x1="839.5" y1="329.50" x2="1384" y2="329.50" stroke="#2b2b2b" stroke-width="1"/>
<line x1="839.5" y1="323.50" x2="1384" y2="323.50" stroke="#2b2b2b" stroke-width="1"/>
<line x1="839.5" y1="318.50" x2="1384" y2="318.50" stroke="#2b2b2b" stroke-width="1"/>
<line x1="839.5" y1="313.50" x2="1384" y2="313.50" stroke="#2b2b2b" stroke-width="1"/>
<line x1="839.5" y1="307.50" x2="1384" y2="307.50" stroke="#2b2b2b" stroke-width="1"/>
<line x1="839.5" y1="302.50" x2="1384" y2="302.50" stroke="#2b2b2b" stroke-width="1"/>
<line x1="839.5" y1="296.50" x2="1384" y2="296.50" stroke="#2b2b2b" stroke-width="1"/>
<line x1="839.5" y1="285.50" x2="1384" y2="285.50" stroke="#2b2b2b" stroke-width="1"/>
<line x1="839.5" y1="280.50" x2="1384" y2="280.50" stroke="#2b2b2b" stroke-width="1"/>
<line x1="839.5" y1="274.50" x2="1384" y2="274.50" stroke="#2b2b2b" stroke-width="1"/>
<line x1="839.5" y1="269.50" x2="1384" y2="269.50" stroke="#2b2b2b" stroke-width="1"/>
<line x1="839.5" y1="263.50" x2="1384" y2="263.50" stroke="#2b2b2b" stroke-width="1"/>
<line x1="839.5" y1="258.50" x2="1384" y2="258.50" stroke="#2b2b2b" stroke-width="1"/>
<line x1="839.5" y1="252.50" x2="1384" y2="252.50" stroke="#2b2b2b" stroke-width="1"/>
<line x1="839.5" y1="247.50" x2="1384" y2="247.50" stroke="#2b2b2b" stroke-width="1"/>
<line x1="839.5" y1="241.50" x2="1384" y2="241.50" stroke="#2b2b2b" stroke-width="1"/>
<line x1="839.5" y1="231.50" x2="1384" y2="231.50" stroke="#2b2b2b" stroke-width="1"/>
<line x1="839.5" y1="225.50" x2="1384" y2="225.50" stroke="#2b2b2b" stroke-width="1"/>
<line x1="839.5" y1="220.50" x2="1384" y2="220.50" stroke="#2b2b2b" stroke-width="1"/>
<line x1="839.5" y1="214.50" x2="1384" y2="214.50" stroke="#2b2b2b" stroke-width="1"/>
<line x1="839.5" y1="209.50" x2="1384" y2="209.50" stroke="#2b2b2b" stroke-width="1"/>
<line x1="839.5" y1="203.50" x2="1384" y2="203.50" stroke="#2b2b2b" stroke-width="1"/>
<line x1="839.5" y1="198.50" x2="1384" y2="198.50" stroke="#2b2b2b" stroke-width="1"/>
<line x1="839.5" y1="192.50" x2="1384" y2="192.50" stroke="#2b2b2b" stroke-width="1"/>
<line x1="839.5" y1="187.50" x2="1384" y2="187.50" stroke="#2b2b2b" stroke-width="1"/>
<line x1="839.5" y1="176.50" x2="1384" y2="176.50" stroke="#2b2b2b" stroke-width="1"/>
<line x1="839.5" y1="170.50" x2="1384" y2="170.50" stroke="#2b2b2b" stroke-width="1"/>
<line x1="839.5" y1="165.50" x2="1384" y2="165.50" stroke="#2b2b2b" stroke-width="1"/>
<line x1="839.5" y1="160.50" x2="1384" y2="160.50" stroke="#2b2b2b" stroke-width="1"/>
<line x1="839.5" y1="154.50" x2="1384" y2="154.50" stroke="#2b2b2b" stroke-width="1"/>
<line x1="839.5" y1="149.50" x2="1384" y2="149.50" stroke="#2b2b2b" stroke-width="1"/>
<line x1="839.5" y1="143.50" x2="1384" y2="143.50" stroke="#2b2b2b" stroke-width="1"/>
<line x1="839.5" y1="138.50" x2="1384" y2="138.50" stroke="#2b2b2b" stroke-width="1"/>
<line x1="839.5" y1="132.50" x2="1384" y2="132.50" stroke="#2b2b2b" stroke-width="1"/>
<line x1="839.5" y1="121.50" x2="1384" y2="121.50" stroke="#2b2b2b" stroke-width="1"/>
<line x1="839.5" y1="116.50" x2="1384" y2="116.50" stroke="#2b2b2b" stroke-width="1"/>
<line x1="839.5" y1="110.50" x2="1384" y2="110.50" stroke="#2b2b2b" stroke-width="1"/>
<line x1="839.5" y1="105.50" x2="1384" y2="105.50" stroke="#2b2b2b" stroke-width="1"/>
<line x1="839.5" y1="99.50" x2="1384" y2="99.50" stroke="#2b2b2b" stroke-width="1"/>
<line x1="839.5" y1="94.50" x2="1384" y2="94.50" stroke="#2b2b2b" stroke-width="1"/>
<line x1="907.9" y1="94" x2="907.9" y2="405.5" stroke="#212121" stroke-width="1.6"/>
<line x1="1089.9" y1="94" x2="1089.9" y2="405.5" stroke="#212121" stroke-width="1.6"/>
<line x1="1270.9" y1="94" x2="1270.9" y2="405.5" stroke="#212121" stroke-width="1.6"/>
<line x1="834.5" y1="400.20" x2="1384.7" y2="400.20" stroke="#212121" stroke-width="1.8"/>
<text x="830.5" y="406.80" text-anchor="end" font-size="19" textLength="51.10" lengthAdjust="spacingAndGlyphs" fill="#ffffff">0MHz</text>
<line x1="834.5" y1="345.81" x2="1384.7" y2="345.81" stroke="#212121" stroke-width="1.8"/>
<text x="830.5" y="352.16" text-anchor="end" font-size="19" textLength="83.76" lengthAdjust="spacingAndGlyphs" fill="#ffffff">2000MHz</text>
<line x1="834.5" y1="291.17" x2="1384.7" y2="291.17" stroke="#212121" stroke-width="1.8"/>
<text x="830.5" y="297.52" text-anchor="end" font-size="19" textLength="83.76" lengthAdjust="spacingAndGlyphs" fill="#ffffff">4000MHz</text>
<line x1="834.5" y1="236.54" x2="1384.7" y2="236.54" stroke="#212121" stroke-width="1.8"/>
<text x="830.5" y="242.89" text-anchor="end" font-size="19" textLength="83.76" lengthAdjust="spacingAndGlyphs" fill="#ffffff">6000MHz</text>
<line x1="834.5" y1="181.90" x2="1384.7" y2="181.90" stroke="#212121" stroke-width="1.8"/>
<text x="830.5" y="188.25" text-anchor="end" font-size="19" textLength="83.76" lengthAdjust="spacingAndGlyphs" fill="#ffffff">8000MHz</text>
<line x1="834.5" y1="127.26" x2="1384.7" y2="127.26" stroke="#212121" stroke-width="1.8"/>
<text x="830.5" y="133.61" text-anchor="end" font-size="19" textLength="94.64" lengthAdjust="spacingAndGlyphs" fill="#ffffff">10000MHz</text>
<line x1="839.5" y1="94" x2="839.5" y2="400" stroke="#212121" stroke-width="1.5"/>
<text x="907.8" y="423.8" text-anchor="middle" font-size="19" textLength="77.5" lengthAdjust="spacingAndGlyphs" fill="#ffffff">02:36:20</text>
<text x="1089.8" y="423.8" text-anchor="middle" font-size="19" textLength="77.5" lengthAdjust="spacingAndGlyphs" fill="#ffffff">02:36:40</text>
<text x="1270.8" y="423.8" text-anchor="middle" font-size="19" textLength="77.5" lengthAdjust="spacingAndGlyphs" fill="#ffffff">02:37:00</text>
<polyline points="840.0,326.0 1384.0,326.0" fill="none" stroke="rgb(75,25,230)" stroke-width="2" stroke-linejoin="miter" stroke-linecap="butt"/>
<polyline points="840.0,94.0 1384.0,94.0" fill="none" stroke="rgb(75,180,60)" stroke-width="2" stroke-linejoin="miter" stroke-linecap="butt"/>
<rect x="845.5" y="99" width="209.5" height="68.0" fill="#2d2d2d" fill-opacity="0.8"/>
<rect x="858" y="117" width="14" height="14" fill="rgb(75,25,230)"/>
<text x="894.8" y="129.8" font-size="15.2" textLength="160" lengthAdjust="spacingAndGlyphs" fill="#ededed" style="stroke:none">GPU Clock: 2745.0MHz</text>
<rect x="858" y="135" width="14" height="14" fill="rgb(75,180,60)"/>
<text x="894.8" y="147.8" font-size="15.2" textLength="182.5" lengthAdjust="spacingAndGlyphs" fill="#ededed" style="stroke:none">VRAM Clock: 11201.0MHz</text>
<rect x="1346" y="89.5" width="34.5" height="33" rx="5" fill="rgba(52,52,52,0.78)" stroke="rgba(22,22,22,0.55)"/>
<circle cx="1363" cy="106" r="6" fill="none" stroke="#969696" stroke-width="1"/>
<rect x="1362" y="105.5" width="2" height="4.5" fill="#969696"/>
<rect x="1362" y="102.2" width="2" height="1.7" fill="#969696"/>
<rect x="29.5" y="452.5" width="681" height="373" rx="6" ry="6" fill="#363636" stroke="#1c1c1c" stroke-width="1"/>
<rect x="35" y="458" width="670" height="362" fill="#2d2d2d"/>
<line x1="110.50" y1="479" x2="110.50" y2="784" stroke="#2b2b2b" stroke-width="1"/>
<line x1="130.50" y1="479" x2="130.50" y2="784" stroke="#2b2b2b" stroke-width="1"/>
<line x1="150.50" y1="479" x2="150.50" y2="784" stroke="#2b2b2b" stroke-width="1"/>
<line x1="190.50" y1="479" x2="190.50" y2="784" stroke="#2b2b2b" stroke-width="1"/>
<line x1="210.50" y1="479" x2="210.50" y2="784" stroke="#2b2b2b" stroke-width="1"/>
<line x1="230.50" y1="479" x2="230.50" y2="784" stroke="#2b2b2b" stroke-width="1"/>
<line x1="250.50" y1="479" x2="250.50" y2="784" stroke="#2b2b2b" stroke-width="1"/>
<line x1="270.50" y1="479" x2="270.50" y2="784" stroke="#2b2b2b" stroke-width="1"/>
<line x1="289.50" y1="479" x2="289.50" y2="784" stroke="#2b2b2b" stroke-width="1"/>
<line x1="309.50" y1="479" x2="309.50" y2="784" stroke="#2b2b2b" stroke-width="1"/>
<line x1="329.50" y1="479" x2="329.50" y2="784" stroke="#2b2b2b" stroke-width="1"/>
<line x1="349.50" y1="479" x2="349.50" y2="784" stroke="#2b2b2b" stroke-width="1"/>
<line x1="389.50" y1="479" x2="389.50" y2="784" stroke="#2b2b2b" stroke-width="1"/>
<line x1="409.50" y1="479" x2="409.50" y2="784" stroke="#2b2b2b" stroke-width="1"/>
<line x1="429.50" y1="479" x2="429.50" y2="784" stroke="#2b2b2b" stroke-width="1"/>
<line x1="449.50" y1="479" x2="449.50" y2="784" stroke="#2b2b2b" stroke-width="1"/>
<line x1="469.50" y1="479" x2="469.50" y2="784" stroke="#2b2b2b" stroke-width="1"/>
<line x1="488.50" y1="479" x2="488.50" y2="784" stroke="#2b2b2b" stroke-width="1"/>
<line x1="508.50" y1="479" x2="508.50" y2="784" stroke="#2b2b2b" stroke-width="1"/>
<line x1="528.50" y1="479" x2="528.50" y2="784" stroke="#2b2b2b" stroke-width="1"/>
<line x1="548.50" y1="479" x2="548.50" y2="784" stroke="#2b2b2b" stroke-width="1"/>
<line x1="588.50" y1="479" x2="588.50" y2="784" stroke="#2b2b2b" stroke-width="1"/>
<line x1="608.50" y1="479" x2="608.50" y2="784" stroke="#2b2b2b" stroke-width="1"/>
<line x1="628.50" y1="479" x2="628.50" y2="784" stroke="#2b2b2b" stroke-width="1"/>
<line x1="648.50" y1="479" x2="648.50" y2="784" stroke="#2b2b2b" stroke-width="1"/>
<line x1="668.50" y1="479" x2="668.50" y2="784" stroke="#2b2b2b" stroke-width="1"/>
<line x1="687.50" y1="479" x2="687.50" y2="784" stroke="#2b2b2b" stroke-width="1"/>
<line x1="96.5" y1="778.50" x2="693" y2="778.50" stroke="#2b2b2b" stroke-width="1"/>
<line x1="96.5" y1="772.50" x2="693" y2="772.50" stroke="#2b2b2b" stroke-width="1"/>
<line x1="96.5" y1="766.50" x2="693" y2="766.50" stroke="#2b2b2b" stroke-width="1"/>
<line x1="96.5" y1="760.50" x2="693" y2="760.50" stroke="#2b2b2b" stroke-width="1"/>
<line x1="96.5" y1="753.50" x2="693" y2="753.50" stroke="#2b2b2b" stroke-width="1"/>
<line x1="96.5" y1="747.50" x2="693" y2="747.50" stroke="#2b2b2b" stroke-width="1"/>
<line x1="96.5" y1="741.50" x2="693" y2="741.50" stroke="#2b2b2b" stroke-width="1"/>
<line x1="96.5" y1="735.50" x2="693" y2="735.50" stroke="#2b2b2b" stroke-width="1"/>
<line x1="96.5" y1="729.50" x2="693" y2="729.50" stroke="#2b2b2b" stroke-width="1"/>
<line x1="96.5" y1="717.50" x2="693" y2="717.50" stroke="#2b2b2b" stroke-width="1"/>
<line x1="96.5" y1="711.50" x2="693" y2="711.50" stroke="#2b2b2b" stroke-width="1"/>
<line x1="96.5" y1="705.50" x2="693" y2="705.50" stroke="#2b2b2b" stroke-width="1"/>
<line x1="96.5" y1="699.50" x2="693" y2="699.50" stroke="#2b2b2b" stroke-width="1"/>
<line x1="96.5" y1="693.50" x2="693" y2="693.50" stroke="#2b2b2b" stroke-width="1"/>
<line x1="96.5" y1="686.50" x2="693" y2="686.50" stroke="#2b2b2b" stroke-width="1"/>
<line x1="96.5" y1="680.50" x2="693" y2="680.50" stroke="#2b2b2b" stroke-width="1"/>
<line x1="96.5" y1="674.50" x2="693" y2="674.50" stroke="#2b2b2b" stroke-width="1"/>
<line x1="96.5" y1="668.50" x2="693" y2="668.50" stroke="#2b2b2b" stroke-width="1"/>
<line x1="96.5" y1="656.50" x2="693" y2="656.50" stroke="#2b2b2b" stroke-width="1"/>
<line x1="96.5" y1="650.50" x2="693" y2="650.50" stroke="#2b2b2b" stroke-width="1"/>
<line x1="96.5" y1="644.50" x2="693" y2="644.50" stroke="#2b2b2b" stroke-width="1"/>
<line x1="96.5" y1="638.50" x2="693" y2="638.50" stroke="#2b2b2b" stroke-width="1"/>
<line x1="96.5" y1="632.50" x2="693" y2="632.50" stroke="#2b2b2b" stroke-width="1"/>
<line x1="96.5" y1="626.50" x2="693" y2="626.50" stroke="#2b2b2b" stroke-width="1"/>
<line x1="96.5" y1="619.50" x2="693" y2="619.50" stroke="#2b2b2b" stroke-width="1"/>
<line x1="96.5" y1="613.50" x2="693" y2="613.50" stroke="#2b2b2b" stroke-width="1"/>
<line x1="96.5" y1="607.50" x2="693" y2="607.50" stroke="#2b2b2b" stroke-width="1"/>
<line x1="96.5" y1="595.50" x2="693" y2="595.50" stroke="#2b2b2b" stroke-width="1"/>
<line x1="96.5" y1="589.50" x2="693" y2="589.50" stroke="#2b2b2b" stroke-width="1"/>
<line x1="96.5" y1="583.50" x2="693" y2="583.50" stroke="#2b2b2b" stroke-width="1"/>
<line x1="96.5" y1="577.50" x2="693" y2="577.50" stroke="#2b2b2b" stroke-width="1"/>
<line x1="96.5" y1="571.50" x2="693" y2="571.50" stroke="#2b2b2b" stroke-width="1"/>
<line x1="96.5" y1="565.50" x2="693" y2="565.50" stroke="#2b2b2b" stroke-width="1"/>
<line x1="96.5" y1="558.50" x2="693" y2="558.50" stroke="#2b2b2b" stroke-width="1"/>
<line x1="96.5" y1="552.50" x2="693" y2="552.50" stroke="#2b2b2b" stroke-width="1"/>
<line x1="96.5" y1="546.50" x2="693" y2="546.50" stroke="#2b2b2b" stroke-width="1"/>
<line x1="96.5" y1="534.50" x2="693" y2="534.50" stroke="#2b2b2b" stroke-width="1"/>
<line x1="96.5" y1="528.50" x2="693" y2="528.50" stroke="#2b2b2b" stroke-width="1"/>
<line x1="96.5" y1="522.50" x2="693" y2="522.50" stroke="#2b2b2b" stroke-width="1"/>
<line x1="96.5" y1="516.50" x2="693" y2="516.50" stroke="#2b2b2b" stroke-width="1"/>
<line x1="96.5" y1="510.50" x2="693" y2="510.50" stroke="#2b2b2b" stroke-width="1"/>
<line x1="96.5" y1="504.50" x2="693" y2="504.50" stroke="#2b2b2b" stroke-width="1"/>
<line x1="96.5" y1="498.50" x2="693" y2="498.50" stroke="#2b2b2b" stroke-width="1"/>
<line x1="96.5" y1="491.50" x2="693" y2="491.50" stroke="#2b2b2b" stroke-width="1"/>
<line x1="96.5" y1="485.50" x2="693" y2="485.50" stroke="#2b2b2b" stroke-width="1"/>
<line x1="170.9" y1="479" x2="170.9" y2="789.5" stroke="#212121" stroke-width="1.6"/>
<line x1="369.9" y1="479" x2="369.9" y2="789.5" stroke="#212121" stroke-width="1.6"/>
<line x1="568.9" y1="479" x2="568.9" y2="789.5" stroke="#212121" stroke-width="1.6"/>
<line x1="91.5" y1="784.20" x2="693.7" y2="784.20" stroke="#212121" stroke-width="1.8"/>
<text x="87.5" y="790.80" text-anchor="end" font-size="19" textLength="10.94" lengthAdjust="spacingAndGlyphs" fill="#ffffff">0</text>
<line x1="91.5" y1="723.51" x2="693.7" y2="723.51" stroke="#212121" stroke-width="1.8"/>
<text x="87.5" y="729.86" text-anchor="end" font-size="19" textLength="32.81" lengthAdjust="spacingAndGlyphs" fill="#ffffff">200</text>
<line x1="91.5" y1="662.57" x2="693.7" y2="662.57" stroke="#212121" stroke-width="1.8"/>
<text x="87.5" y="668.92" text-anchor="end" font-size="19" textLength="32.81" lengthAdjust="spacingAndGlyphs" fill="#ffffff">400</text>
<line x1="91.5" y1="601.63" x2="693.7" y2="601.63" stroke="#212121" stroke-width="1.8"/>
<text x="87.5" y="607.98" text-anchor="end" font-size="19" textLength="32.81" lengthAdjust="spacingAndGlyphs" fill="#ffffff">600</text>
<line x1="91.5" y1="540.69" x2="693.7" y2="540.69" stroke="#212121" stroke-width="1.8"/>
<text x="87.5" y="547.04" text-anchor="end" font-size="19" textLength="32.81" lengthAdjust="spacingAndGlyphs" fill="#ffffff">800</text>
<line x1="91.5" y1="479.75" x2="693.7" y2="479.75" stroke="#212121" stroke-width="1.8"/>
<text x="87.5" y="486.10" text-anchor="end" font-size="19" textLength="43.75" lengthAdjust="spacingAndGlyphs" fill="#ffffff">1000</text>
<line x1="96.5" y1="479" x2="96.5" y2="784" stroke="#212121" stroke-width="1.5"/>
<text x="170.8" y="807.8" text-anchor="middle" font-size="19" textLength="77.5" lengthAdjust="spacingAndGlyphs" fill="#ffffff">02:36:20</text>
<text x="369.8" y="807.8" text-anchor="middle" font-size="19" textLength="77.5" lengthAdjust="spacingAndGlyphs" fill="#ffffff">02:36:40</text>
<text x="568.8" y="807.8" text-anchor="middle" font-size="19" textLength="77.5" lengthAdjust="spacingAndGlyphs" fill="#ffffff">02:37:00</text>
<polyline points="97.0,775.0 693.0,775.0" fill="none" stroke="rgb(75,180,60)" stroke-width="2" stroke-linejoin="miter" stroke-linecap="butt"/>
<polyline points="97.0,479.0 128.8,479.0 128.8,480.0 132.0,480.0 132.0,479.0 142.5,479.0 142.5,480.0 144.6,480.0 144.6,479.0 188.0,479.0 188.0,480.0 192.0,480.0 192.0,479.0 196.0,479.0 196.0,480.0 201.6,480.0 201.6,479.0 212.0,479.0 212.0,480.0 215.0,480.0 215.0,479.0 243.8,479.0 243.8,478.0 247.0,478.0 247.0,479.0 311.0,479.0 311.0,480.0 318.0,480.0 318.0,479.0 320.0,479.0 320.0,480.0 326.0,480.0 326.0,479.0 335.7,479.0 335.7,480.0 343.0,480.0 343.0,479.0 376.8,479.0 376.8,478.0 380.0,478.0 380.0,479.0 389.5,479.0 389.5,478.0 401.4,478.0 401.4,479.0 416.0,479.0 416.0,480.0 425.7,480.0 425.7,479.0 433.0,479.0 433.0,480.0 436.0,480.0 436.0,479.0 444.7,479.0 444.7,480.0 449.0,480.0 449.0,479.0 496.4,479.0 496.4,480.0 499.6,480.0 499.6,479.0 507.0,479.0 507.0,480.0 510.0,480.0 510.0,479.0 538.7,479.0 538.7,480.0 543.0,480.0 543.0,479.0 572.4,479.0 572.4,478.0 577.7,478.0 577.7,479.0 648.4,479.0 648.4,480.0 652.7,480.0 652.7,479.0 693.0,479.0" fill="none" stroke="rgb(75,25,230)" stroke-width="2" stroke-linejoin="miter" stroke-linecap="butt"/>
<rect x="102.5" y="484" width="184.5" height="67.4" fill="#2d2d2d" fill-opacity="0.8"/>
<rect x="115" y="501" width="14" height="14" fill="rgb(75,25,230)"/>
<text x="151" y="512.8" font-size="15.2" textLength="147.5" lengthAdjust="spacingAndGlyphs" fill="#ededed" style="stroke:none">Fan RPM: 1001.0RPM</text>
<rect x="115" y="519" width="14" height="14" fill="rgb(75,180,60)"/>
<text x="151" y="530.8" font-size="15.2" textLength="78.5" lengthAdjust="spacingAndGlyphs" fill="#ededed" style="stroke:none">Fan: 29.8%</text>
<rect x="654" y="473.5" width="34.5" height="33" rx="5" fill="rgba(52,52,52,0.78)" stroke="rgba(22,22,22,0.55)"/>
<circle cx="671" cy="490" r="6" fill="none" stroke="#969696" stroke-width="1"/>
<rect x="670" y="489.5" width="2" height="4.5" fill="#969696"/>
<rect x="670" y="486.2" width="2" height="1.7" fill="#969696"/>
<rect x="721.5" y="452.5" width="680" height="373" rx="6" ry="6" fill="#363636" stroke="#1c1c1c" stroke-width="1"/>
<rect x="727" y="458" width="669" height="362" fill="#2d2d2d"/>
<line x1="810.50" y1="478" x2="810.50" y2="784" stroke="#2b2b2b" stroke-width="1"/>
<line x1="830.50" y1="478" x2="830.50" y2="784" stroke="#2b2b2b" stroke-width="1"/>
<line x1="849.50" y1="478" x2="849.50" y2="784" stroke="#2b2b2b" stroke-width="1"/>
<line x1="889.50" y1="478" x2="889.50" y2="784" stroke="#2b2b2b" stroke-width="1"/>
<line x1="908.50" y1="478" x2="908.50" y2="784" stroke="#2b2b2b" stroke-width="1"/>
<line x1="928.50" y1="478" x2="928.50" y2="784" stroke="#2b2b2b" stroke-width="1"/>
<line x1="947.50" y1="478" x2="947.50" y2="784" stroke="#2b2b2b" stroke-width="1"/>
<line x1="967.50" y1="478" x2="967.50" y2="784" stroke="#2b2b2b" stroke-width="1"/>
<line x1="987.50" y1="478" x2="987.50" y2="784" stroke="#2b2b2b" stroke-width="1"/>
<line x1="1006.50" y1="478" x2="1006.50" y2="784" stroke="#2b2b2b" stroke-width="1"/>
<line x1="1026.50" y1="478" x2="1026.50" y2="784" stroke="#2b2b2b" stroke-width="1"/>
<line x1="1045.50" y1="478" x2="1045.50" y2="784" stroke="#2b2b2b" stroke-width="1"/>
<line x1="1085.50" y1="478" x2="1085.50" y2="784" stroke="#2b2b2b" stroke-width="1"/>
<line x1="1104.50" y1="478" x2="1104.50" y2="784" stroke="#2b2b2b" stroke-width="1"/>
<line x1="1124.50" y1="478" x2="1124.50" y2="784" stroke="#2b2b2b" stroke-width="1"/>
<line x1="1143.50" y1="478" x2="1143.50" y2="784" stroke="#2b2b2b" stroke-width="1"/>
<line x1="1163.50" y1="478" x2="1163.50" y2="784" stroke="#2b2b2b" stroke-width="1"/>
<line x1="1183.50" y1="478" x2="1183.50" y2="784" stroke="#2b2b2b" stroke-width="1"/>
<line x1="1202.50" y1="478" x2="1202.50" y2="784" stroke="#2b2b2b" stroke-width="1"/>
<line x1="1222.50" y1="478" x2="1222.50" y2="784" stroke="#2b2b2b" stroke-width="1"/>
<line x1="1241.50" y1="478" x2="1241.50" y2="784" stroke="#2b2b2b" stroke-width="1"/>
<line x1="1281.50" y1="478" x2="1281.50" y2="784" stroke="#2b2b2b" stroke-width="1"/>
<line x1="1300.50" y1="478" x2="1300.50" y2="784" stroke="#2b2b2b" stroke-width="1"/>
<line x1="1320.50" y1="478" x2="1320.50" y2="784" stroke="#2b2b2b" stroke-width="1"/>
<line x1="1339.50" y1="478" x2="1339.50" y2="784" stroke="#2b2b2b" stroke-width="1"/>
<line x1="1359.50" y1="478" x2="1359.50" y2="784" stroke="#2b2b2b" stroke-width="1"/>
<line x1="1379.50" y1="478" x2="1379.50" y2="784" stroke="#2b2b2b" stroke-width="1"/>
<line x1="796.5" y1="780.50" x2="1384" y2="780.50" stroke="#2b2b2b" stroke-width="1"/>
<line x1="796.5" y1="775.50" x2="1384" y2="775.50" stroke="#2b2b2b" stroke-width="1"/>
<line x1="796.5" y1="771.50" x2="1384" y2="771.50" stroke="#2b2b2b" stroke-width="1"/>
<line x1="796.5" y1="767.50" x2="1384" y2="767.50" stroke="#2b2b2b" stroke-width="1"/>
<line x1="796.5" y1="762.50" x2="1384" y2="762.50" stroke="#2b2b2b" stroke-width="1"/>
<line x1="796.5" y1="758.50" x2="1384" y2="758.50" stroke="#2b2b2b" stroke-width="1"/>
<line x1="796.5" y1="754.50" x2="1384" y2="754.50" stroke="#2b2b2b" stroke-width="1"/>
<line x1="796.5" y1="749.50" x2="1384" y2="749.50" stroke="#2b2b2b" stroke-width="1"/>
<line x1="796.5" y1="745.50" x2="1384" y2="745.50" stroke="#2b2b2b" stroke-width="1"/>
<line x1="796.5" y1="736.50" x2="1384" y2="736.50" stroke="#2b2b2b" stroke-width="1"/>
<line x1="796.5" y1="732.50" x2="1384" y2="732.50" stroke="#2b2b2b" stroke-width="1"/>
<line x1="796.5" y1="727.50" x2="1384" y2="727.50" stroke="#2b2b2b" stroke-width="1"/>
<line x1="796.5" y1="723.50" x2="1384" y2="723.50" stroke="#2b2b2b" stroke-width="1"/>
<line x1="796.5" y1="719.50" x2="1384" y2="719.50" stroke="#2b2b2b" stroke-width="1"/>
<line x1="796.5" y1="714.50" x2="1384" y2="714.50" stroke="#2b2b2b" stroke-width="1"/>
<line x1="796.5" y1="710.50" x2="1384" y2="710.50" stroke="#2b2b2b" stroke-width="1"/>
<line x1="796.5" y1="706.50" x2="1384" y2="706.50" stroke="#2b2b2b" stroke-width="1"/>
<line x1="796.5" y1="701.50" x2="1384" y2="701.50" stroke="#2b2b2b" stroke-width="1"/>
<line x1="796.5" y1="693.50" x2="1384" y2="693.50" stroke="#2b2b2b" stroke-width="1"/>
<line x1="796.5" y1="688.50" x2="1384" y2="688.50" stroke="#2b2b2b" stroke-width="1"/>
<line x1="796.5" y1="684.50" x2="1384" y2="684.50" stroke="#2b2b2b" stroke-width="1"/>
<line x1="796.5" y1="680.50" x2="1384" y2="680.50" stroke="#2b2b2b" stroke-width="1"/>
<line x1="796.5" y1="675.50" x2="1384" y2="675.50" stroke="#2b2b2b" stroke-width="1"/>
<line x1="796.5" y1="671.50" x2="1384" y2="671.50" stroke="#2b2b2b" stroke-width="1"/>
<line x1="796.5" y1="667.50" x2="1384" y2="667.50" stroke="#2b2b2b" stroke-width="1"/>
<line x1="796.5" y1="662.50" x2="1384" y2="662.50" stroke="#2b2b2b" stroke-width="1"/>
<line x1="796.5" y1="658.50" x2="1384" y2="658.50" stroke="#2b2b2b" stroke-width="1"/>
<line x1="796.5" y1="649.50" x2="1384" y2="649.50" stroke="#2b2b2b" stroke-width="1"/>
<line x1="796.5" y1="645.50" x2="1384" y2="645.50" stroke="#2b2b2b" stroke-width="1"/>
<line x1="796.5" y1="641.50" x2="1384" y2="641.50" stroke="#2b2b2b" stroke-width="1"/>
<line x1="796.5" y1="636.50" x2="1384" y2="636.50" stroke="#2b2b2b" stroke-width="1"/>
<line x1="796.5" y1="632.50" x2="1384" y2="632.50" stroke="#2b2b2b" stroke-width="1"/>
<line x1="796.5" y1="627.50" x2="1384" y2="627.50" stroke="#2b2b2b" stroke-width="1"/>
<line x1="796.5" y1="623.50" x2="1384" y2="623.50" stroke="#2b2b2b" stroke-width="1"/>
<line x1="796.5" y1="619.50" x2="1384" y2="619.50" stroke="#2b2b2b" stroke-width="1"/>
<line x1="796.5" y1="614.50" x2="1384" y2="614.50" stroke="#2b2b2b" stroke-width="1"/>
<line x1="796.5" y1="606.50" x2="1384" y2="606.50" stroke="#2b2b2b" stroke-width="1"/>
<line x1="796.5" y1="601.50" x2="1384" y2="601.50" stroke="#2b2b2b" stroke-width="1"/>
<line x1="796.5" y1="597.50" x2="1384" y2="597.50" stroke="#2b2b2b" stroke-width="1"/>
<line x1="796.5" y1="593.50" x2="1384" y2="593.50" stroke="#2b2b2b" stroke-width="1"/>
<line x1="796.5" y1="588.50" x2="1384" y2="588.50" stroke="#2b2b2b" stroke-width="1"/>
<line x1="796.5" y1="584.50" x2="1384" y2="584.50" stroke="#2b2b2b" stroke-width="1"/>
<line x1="796.5" y1="580.50" x2="1384" y2="580.50" stroke="#2b2b2b" stroke-width="1"/>
<line x1="796.5" y1="575.50" x2="1384" y2="575.50" stroke="#2b2b2b" stroke-width="1"/>
<line x1="796.5" y1="571.50" x2="1384" y2="571.50" stroke="#2b2b2b" stroke-width="1"/>
<line x1="796.5" y1="562.50" x2="1384" y2="562.50" stroke="#2b2b2b" stroke-width="1"/>
<line x1="796.5" y1="558.50" x2="1384" y2="558.50" stroke="#2b2b2b" stroke-width="1"/>
<line x1="796.5" y1="554.50" x2="1384" y2="554.50" stroke="#2b2b2b" stroke-width="1"/>
<line x1="796.5" y1="549.50" x2="1384" y2="549.50" stroke="#2b2b2b" stroke-width="1"/>
<line x1="796.5" y1="545.50" x2="1384" y2="545.50" stroke="#2b2b2b" stroke-width="1"/>
<line x1="796.5" y1="541.50" x2="1384" y2="541.50" stroke="#2b2b2b" stroke-width="1"/>
<line x1="796.5" y1="536.50" x2="1384" y2="536.50" stroke="#2b2b2b" stroke-width="1"/>
<line x1="796.5" y1="532.50" x2="1384" y2="532.50" stroke="#2b2b2b" stroke-width="1"/>
<line x1="796.5" y1="528.50" x2="1384" y2="528.50" stroke="#2b2b2b" stroke-width="1"/>
<line x1="796.5" y1="519.50" x2="1384" y2="519.50" stroke="#2b2b2b" stroke-width="1"/>
<line x1="796.5" y1="514.50" x2="1384" y2="514.50" stroke="#2b2b2b" stroke-width="1"/>
<line x1="796.5" y1="510.50" x2="1384" y2="510.50" stroke="#2b2b2b" stroke-width="1"/>
<line x1="796.5" y1="506.50" x2="1384" y2="506.50" stroke="#2b2b2b" stroke-width="1"/>
<line x1="796.5" y1="501.50" x2="1384" y2="501.50" stroke="#2b2b2b" stroke-width="1"/>
<line x1="796.5" y1="497.50" x2="1384" y2="497.50" stroke="#2b2b2b" stroke-width="1"/>
<line x1="796.5" y1="493.50" x2="1384" y2="493.50" stroke="#2b2b2b" stroke-width="1"/>
<line x1="796.5" y1="488.50" x2="1384" y2="488.50" stroke="#2b2b2b" stroke-width="1"/>
<line x1="796.5" y1="484.50" x2="1384" y2="484.50" stroke="#2b2b2b" stroke-width="1"/>
<line x1="869.9" y1="478" x2="869.9" y2="789.5" stroke="#212121" stroke-width="1.6"/>
<line x1="1065.9" y1="478" x2="1065.9" y2="789.5" stroke="#212121" stroke-width="1.6"/>
<line x1="1261.9" y1="478" x2="1261.9" y2="789.5" stroke="#212121" stroke-width="1.6"/>
<line x1="791.5" y1="784.20" x2="1384.7" y2="784.20" stroke="#212121" stroke-width="1.8"/>
<text x="786.3" y="790.80" text-anchor="end" font-size="19" fill="#ffffff">0W</text>
<line x1="791.5" y1="740.98" x2="1384.7" y2="740.98" stroke="#212121" stroke-width="1.8"/>
<text x="786.3" y="747.33" text-anchor="end" font-size="19" fill="#ffffff">50W</text>
<line x1="791.5" y1="697.52" x2="1384.7" y2="697.52" stroke="#212121" stroke-width="1.8"/>
<text x="786.3" y="703.87" text-anchor="end" font-size="19" fill="#ffffff">100W</text>
<line x1="791.5" y1="654.05" x2="1384.7" y2="654.05" stroke="#212121" stroke-width="1.8"/>
<text x="786.3" y="660.40" text-anchor="end" font-size="19" fill="#ffffff">150W</text>
<line x1="791.5" y1="610.59" x2="1384.7" y2="610.59" stroke="#212121" stroke-width="1.8"/>
<text x="786.3" y="616.94" text-anchor="end" font-size="19" fill="#ffffff">200W</text>
<line x1="791.5" y1="567.12" x2="1384.7" y2="567.12" stroke="#212121" stroke-width="1.8"/>
<text x="786.3" y="573.47" text-anchor="end" font-size="19" fill="#ffffff">250W</text>
<line x1="791.5" y1="523.65" x2="1384.7" y2="523.65" stroke="#212121" stroke-width="1.8"/>
<text x="786.3" y="530.00" text-anchor="end" font-size="19" fill="#ffffff">300W</text>
<line x1="791.5" y1="480.19" x2="1384.7" y2="480.19" stroke="#212121" stroke-width="1.8"/>
<text x="786.3" y="486.54" text-anchor="end" font-size="19" fill="#ffffff">350W</text>
<line x1="796.5" y1="478" x2="796.5" y2="784" stroke="#212121" stroke-width="1.5"/>
<text x="869.8" y="807.8" text-anchor="middle" font-size="19" textLength="77.5" lengthAdjust="spacingAndGlyphs" fill="#ffffff">02:36:20</text>
<text x="1065.8" y="807.8" text-anchor="middle" font-size="19" textLength="77.5" lengthAdjust="spacingAndGlyphs" fill="#ffffff">02:36:40</text>
<text x="1261.8" y="807.8" text-anchor="middle" font-size="19" textLength="77.5" lengthAdjust="spacingAndGlyphs" fill="#ffffff">02:37:00</text>
<polyline points="797.1,650.0 802.4,650.0 802.4,652.0 807.7,652.0 807.7,654.0 818.2,654.0 818.2,647.0 822.4,647.0 822.4,637.0 827.7,637.0 827.7,635.0 831.9,635.0 831.9,633.0 836.8,633.0 836.8,638.0 837.0,638.0 837.0,627.0 840.4,627.0 840.4,625.0 841.9,625.0 841.9,622.0 845.7,622.0 845.7,620.0 846.3,620.0 846.5,616.0 846.7,616.0 846.7,637.0 847.8,637.0 847.8,633.0 851.2,633.0 851.4,621.0 851.6,621.0 851.6,666.0 851.8,666.0 851.8,653.0 856.2,653.0 856.2,659.0 861.5,659.0 861.7,647.0 861.9,647.0 861.9,662.0 862.1,662.0 862.1,651.0 872.1,651.0 872.1,647.0 877.3,647.0 877.3,648.0 882.6,648.0 882.6,647.0 885.8,647.0 885.8,641.0 891.1,641.0 891.1,645.0 895.3,645.0 895.3,649.0 900.6,649.0 900.6,645.0 905.8,645.0 905.8,644.0 911.1,644.0 911.1,643.0 916.4,643.0 916.4,648.0 920.6,648.0 920.6,656.0 925.9,656.0 925.9,658.0 931.2,658.0 931.2,660.0 939.6,660.0 939.6,662.0 944.9,662.0 944.9,663.0 950.2,663.0 950.2,659.0 955.4,659.0 955.4,653.0 959.7,653.0 959.7,650.0 964.9,650.0 964.9,649.0 970.2,649.0 970.2,641.0 974.4,641.0 974.4,638.0 978.7,638.0 978.7,635.0 979.1,635.0 979.1,644.0 985.0,644.0 985.0,641.0 989.2,641.0 989.2,639.0 994.5,639.0 994.5,644.0 998.7,644.0 998.7,637.0 998.9,637.0 998.9,640.0 1004.0,640.0 1004.0,645.0 1008.6,645.0 1008.6,657.0 1008.8,657.0 1008.8,654.0 1013.5,654.0 1013.5,657.0 1018.8,657.0 1018.8,651.0 1024.0,651.0 1024.0,650.0 1028.3,650.0 1028.3,645.0 1043.0,645.0 1043.0,644.0 1052.5,644.0 1052.5,645.0 1063.1,645.0 1063.1,644.0 1067.3,644.0 1067.3,647.0 1072.6,647.0 1072.6,645.0 1086.3,645.0 1086.3,647.0 1086.5,647.0 1086.5,636.0 1090.5,636.0 1090.0,631.0 1092.5,631.0 1092.5,631.0 1096.3,631.0 1096.8,627.0 1097.0,627.0 1097.0,640.0 1097.4,640.0 1097.4,638.0 1101.6,638.0 1101.6,639.0 1106.9,639.0 1106.9,652.0 1111.7,652.0 1111.7,659.0 1112.0,659.0 1112.0,657.0 1117.0,657.0 1117.0,649.0 1121.7,649.0 1121.7,648.0 1126.9,648.0 1126.9,647.0 1132.2,647.0 1132.2,646.0 1137.5,646.0 1137.5,647.0 1141.7,647.0 1141.7,653.0 1145.9,653.0 1145.9,655.0 1151.2,655.0 1151.2,652.0 1155.9,652.0 1155.9,649.0 1160.7,649.0 1160.7,648.0 1166.0,648.0 1166.0,653.0 1170.2,653.0 1170.2,656.0 1175.5,656.0 1175.5,654.0 1180.8,654.0 1180.8,655.0 1186.1,655.0 1186.1,653.0 1190.3,653.0 1190.3,651.0 1194.9,651.0 1194.9,644.0 1199.4,644.0 1199.4,637.0 1205.1,637.0 1205.1,639.0 1210.3,639.0 1210.3,649.0 1214.6,649.0 1214.6,655.0 1219.8,655.0 1219.8,656.0 1225.1,656.0 1225.1,657.0 1230.4,657.0 1230.4,654.0 1235.2,654.0 1235.2,650.0 1244.1,650.0 1244.1,655.0 1248.8,655.0 1248.8,659.0 1254.0,659.0 1254.0,656.0 1258.9,656.0 1258.9,645.0 1263.1,645.0 1263.3,634.0 1263.5,634.0 1263.5,650.0 1263.7,650.0 1263.7,638.0 1273.7,638.0 1273.7,635.0 1278.9,635.0 1278.9,632.0 1283.8,632.0 1283.8,651.0 1288.4,651.0 1288.4,659.0 1293.1,659.0 1293.1,646.0 1293.3,646.0 1293.3,648.0 1299.0,648.0 1299.0,649.0 1308.5,649.0 1308.5,648.0 1318.0,648.0 1318.0,641.0 1323.3,641.0 1323.3,634.0 1328.1,634.0 1328.1,627.0 1338.0,627.0 1338.0,631.0 1342.3,631.0 1342.3,634.0 1347.1,634.0 1347.1,643.0 1351.8,643.0 1351.8,648.0 1362.3,648.0 1362.3,646.0 1366.5,646.0 1366.5,644.0 1371.8,644.0 1371.8,645.0 1377.1,645.0 1377.1,649.0 1382.4,649.0 1382.4,646.0 1384.5,646.0" fill="none" stroke="rgb(75,25,230)" stroke-width="2" stroke-linejoin="miter" stroke-linecap="butt"/>
<polyline points="797.0,478.0 1384.0,478.0" fill="none" stroke="rgb(75,180,60)" stroke-width="2" stroke-linejoin="miter" stroke-linecap="butt"/>
<rect x="802.5" y="484" width="184.5" height="67.4" fill="#2d2d2d" fill-opacity="0.8"/>
<rect x="815" y="501" width="14" height="14" fill="rgb(75,25,230)"/>
<text x="850.8" y="512.8" font-size="15.2" textLength="146" lengthAdjust="spacingAndGlyphs" fill="#ededed" style="stroke:none">Power Draw: 157.7W</text>
<rect x="815" y="519" width="14" height="14" fill="rgb(75,180,60)"/>
<text x="850.8" y="530.8" font-size="15.2" textLength="137" lengthAdjust="spacingAndGlyphs" fill="#ededed" style="stroke:none">Power Cap: 352.0W</text>
<rect x="1346" y="473.5" width="34.5" height="33" rx="5" fill="rgba(52,52,52,0.78)" stroke="rgba(22,22,22,0.55)"/>
<circle cx="1363" cy="490" r="6" fill="none" stroke="#969696" stroke-width="1"/>
<rect x="1362" y="489.5" width="2" height="4.5" fill="#969696"/>
<rect x="1362" y="486.2" width="2" height="1.7" fill="#969696"/>
</svg>
</body></html>
